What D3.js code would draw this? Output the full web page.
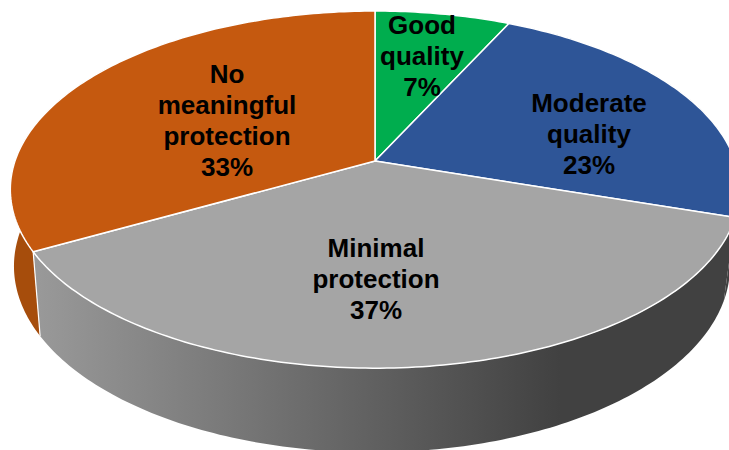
<!DOCTYPE html>
<html>
<head>
<meta charset="utf-8">
<script src="https://cdn.jsdelivr.net/npm/d3@7"></script>
<style>
html,body{margin:0;padding:0;background:#fff;overflow:hidden}
svg{display:block}
text{font-family:"Liberation Sans",Arial,sans-serif;font-weight:700;font-size:26px;fill:#000;text-anchor:middle}
</style>
</head>
<body>
<svg id="chart" width="729" height="450"></svg>
<script>
const categories = ["Good quality", "Moderate quality", "Minimal protection", "No meaningful protection"];
const shares = [7, 23, 37, 33];
const topColors = ["#00ad4e", "#2e5597", "#a5a5a5", "#c5590f"];
const sideColors = ["#008a3e", "#414141", "url(#wall)", "#a64d0c"];
const labelLines = [["Good", "quality", "7%"], ["Moderate", "quality", "23%"], ["Minimal", "protection", "37%"], ["No", "meaningful", "protection", "33%"]];
const labelAnchors = [[422, 34], [589, 112], [376, 257], [227, 83]];

const svg = d3.select("#chart");
const defs = svg.append("defs");
const grad = defs.append("linearGradient").attr("id", "wall")
  .attr("gradientUnits", "userSpaceOnUse")
  .attr("x1", 37).attr("x2", 560).attr("y1", 0).attr("y2", 0);
grad.append("stop").attr("offset", 0).attr("stop-color", "#999999");
grad.append("stop").attr("offset", 1).attr("stop-color", "#414141");

// Tilted disc: perspective projection of the unit circle for each rim
const topRim = {cx: 375, cy: 161, a: 360, b: 174, k: 0.16};
const baseRim = {cx: 372, cy: 242, a: 355, b: 183, k: 0.13};
const project = (rim, ang) => {
  const u = Math.sin(ang), v = -Math.cos(ang), d = 1 - rim.k * v;
  return [rim.cx + rim.a * u / d, rim.cy + rim.b * v / d];
};
const rimPoints = (rim, a0, a1) => {
  const n = Math.max(2, Math.ceil((a1 - a0) * 60));
  return d3.range(n + 1).map(i => project(rim, a0 + (a1 - a0) * i / n));
};

const arcs = d3.pie().sort(null).value(d => d)(shares);
const line = d3.line();

// Walls first, so the top face covers their far halves
const walls = svg.append("g");
arcs.forEach((arc, i) => {
  const outer = rimPoints(topRim, arc.startAngle, arc.endAngle);
  const inner = rimPoints(baseRim, arc.startAngle, arc.endAngle).reverse();
  walls.append("path")
    .attr("d", line(outer.concat(inner)) + "Z")
    .attr("fill", sideColors[i]);
});
// Seam between the orange and grey walls
const seam = arcs[3].startAngle;
walls.append("path")
  .attr("d", line([project(topRim, seam), project(baseRim, seam)]))
  .attr("stroke", "#fff").attr("stroke-width", 1.2).attr("fill", "none");

// Top face slices
const faces = svg.append("g");
arcs.forEach((arc, i) => {
  const pts = [[topRim.cx, topRim.cy]].concat(rimPoints(topRim, arc.startAngle, arc.endAngle));
  faces.append("path")
    .attr("d", line(pts) + "Z")
    .attr("fill", topColors[i])
    .attr("stroke", "#fff").attr("stroke-width", 1.5).attr("stroke-linejoin", "round");
});

// Data labels
const labels = svg.append("g");
categories.forEach((name, i) => {
  const t = labels.append("text").attr("x", labelAnchors[i][0]).attr("y", labelAnchors[i][1]);
  labelLines[i].forEach((s, j) => {
    t.append("tspan").attr("x", labelAnchors[i][0]).attr("dy", j ? 31 : 0).text(s);
  });
  t.append("title").text(name);
});
</script>
</body>
</html>
